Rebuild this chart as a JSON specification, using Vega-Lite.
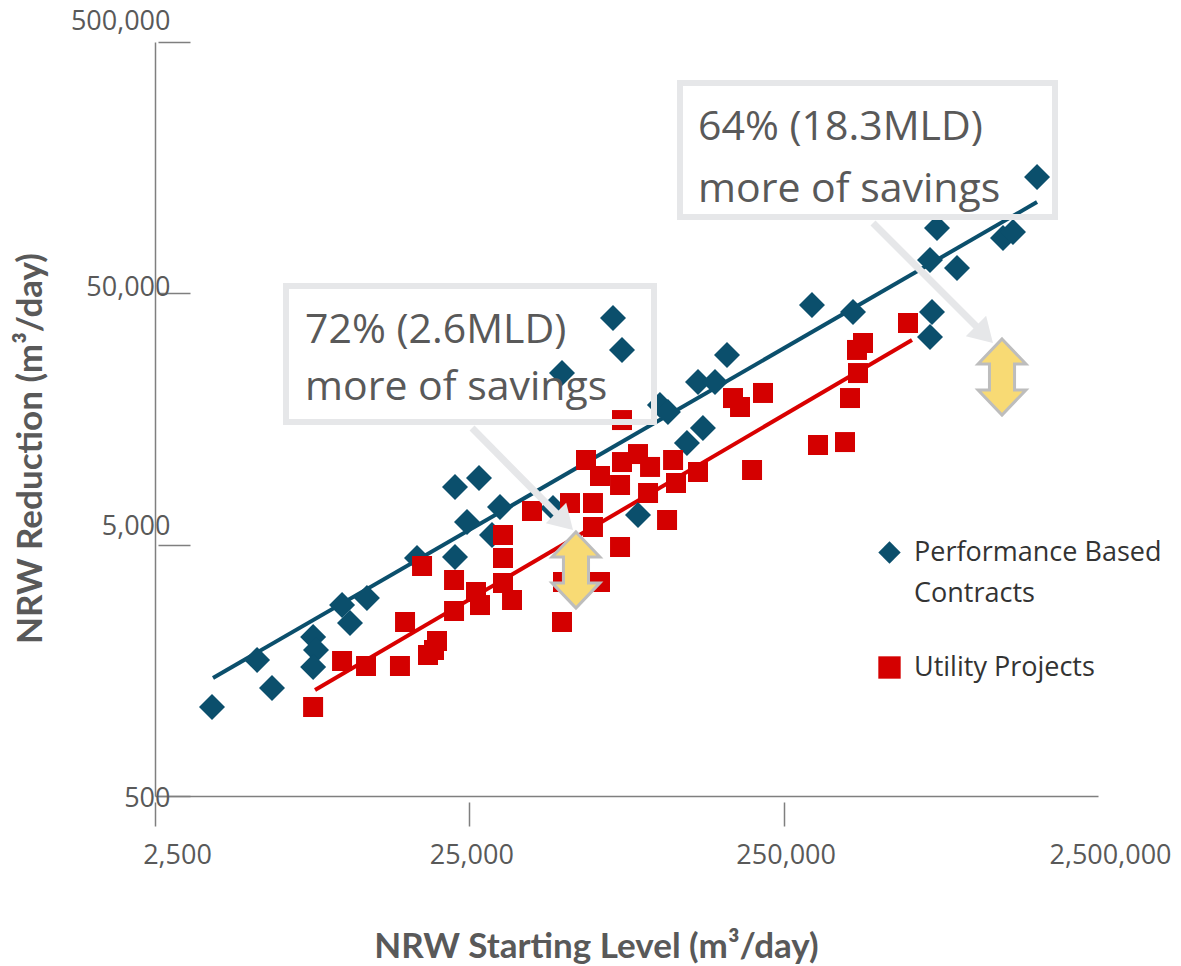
{
  "$schema": "https://vega.github.io/schema/vega-lite/v6.json",
  "width": 943,
  "height": 754,
  "autosize": {"type": "none"},
  "padding": {"left": 155, "top": 42, "right": 83, "bottom": 170},
  "background": "white",
  "datasets": {
    "pts": [
      {"series": "Performance Based Contracts", "start": 3795, "reduction": 1130},
      {"series": "Performance Based Contracts", "start": 5280, "reduction": 1740},
      {"series": "Performance Based Contracts", "start": 5890, "reduction": 1345},
      {"series": "Performance Based Contracts", "start": 7960, "reduction": 2145},
      {"series": "Performance Based Contracts", "start": 8130, "reduction": 1905},
      {"series": "Performance Based Contracts", "start": 7960, "reduction": 1630},
      {"series": "Performance Based Contracts", "start": 9840, "reduction": 2876},
      {"series": "Performance Based Contracts", "start": 10430, "reduction": 2440},
      {"series": "Performance Based Contracts", "start": 11810, "reduction": 3067},
      {"series": "Performance Based Contracts", "start": 17040, "reduction": 4425},
      {"series": "Performance Based Contracts", "start": 22510, "reduction": 4466},
      {"series": "Performance Based Contracts", "start": 22510, "reduction": 8480},
      {"series": "Performance Based Contracts", "start": 24580, "reduction": 6154},
      {"series": "Performance Based Contracts", "start": 26840, "reduction": 9211},
      {"series": "Performance Based Contracts", "start": 31290, "reduction": 7062},
      {"series": "Performance Based Contracts", "start": 29520, "reduction": 5463},
      {"series": "Performance Based Contracts", "start": 46140, "reduction": 6997},
      {"series": "Performance Based Contracts", "start": 49280, "reduction": 24090},
      {"series": "Performance Based Contracts", "start": 71600, "reduction": 39890},
      {"series": "Performance Based Contracts", "start": 76490, "reduction": 29760},
      {"series": "Performance Based Contracts", "start": 86010, "reduction": 6561},
      {"series": "Performance Based Contracts", "start": 101000, "reduction": 17980},
      {"series": "Performance Based Contracts", "start": 107100, "reduction": 16860},
      {"series": "Performance Based Contracts", "start": 123100, "reduction": 12690},
      {"series": "Performance Based Contracts", "start": 138400, "reduction": 14560},
      {"series": "Performance Based Contracts", "start": 133500, "reduction": 22190},
      {"series": "Performance Based Contracts", "start": 151200, "reduction": 22190},
      {"series": "Performance Based Contracts", "start": 165100, "reduction": 28420},
      {"series": "Performance Based Contracts", "start": 307600, "reduction": 44940},
      {"series": "Performance Based Contracts", "start": 415400, "reduction": 42140},
      {"series": "Performance Based Contracts", "start": 730200, "reduction": 67860},
      {"series": "Performance Based Contracts", "start": 768600, "reduction": 90980},
      {"series": "Performance Based Contracts", "start": 890000, "reduction": 63070},
      {"series": "Performance Based Contracts", "start": 741000, "reduction": 42140},
      {"series": "Performance Based Contracts", "start": 730200, "reduction": 33510},
      {"series": "Performance Based Contracts", "start": 1246600, "reduction": 83010},
      {"series": "Performance Based Contracts", "start": 1341000, "reduction": 87700},
      {"series": "Performance Based Contracts", "start": 1599500, "reduction": 145200},
      {"series": "Utility Projects", "start": 7960, "reduction": 1130},
      {"series": "Utility Projects", "start": 9840, "reduction": 1722},
      {"series": "Utility Projects", "start": 11730, "reduction": 1645},
      {"series": "Utility Projects", "start": 15040, "reduction": 1645},
      {"series": "Utility Projects", "start": 15610, "reduction": 2462},
      {"series": "Utility Projects", "start": 17680, "reduction": 4113},
      {"series": "Utility Projects", "start": 18470, "reduction": 1820},
      {"series": "Utility Projects", "start": 19300, "reduction": 1905},
      {"series": "Utility Projects", "start": 19730, "reduction": 2069},
      {"series": "Utility Projects", "start": 22350, "reduction": 3617},
      {"series": "Utility Projects", "start": 22350, "reduction": 2723},
      {"series": "Utility Projects", "start": 26250, "reduction": 3240},
      {"series": "Utility Projects", "start": 27030, "reduction": 2876},
      {"series": "Utility Projects", "start": 31990, "reduction": 5463},
      {"series": "Utility Projects", "start": 31990, "reduction": 4425},
      {"series": "Utility Projects", "start": 31990, "reduction": 3519},
      {"series": "Utility Projects", "start": 34180, "reduction": 3011},
      {"series": "Utility Projects", "start": 39570, "reduction": 6806},
      {"series": "Utility Projects", "start": 49280, "reduction": 2462},
      {"series": "Utility Projects", "start": 49650, "reduction": 3551},
      {"series": "Utility Projects", "start": 52260, "reduction": 7322},
      {"series": "Utility Projects", "start": 58760, "reduction": 10860},
      {"series": "Utility Projects", "start": 61840, "reduction": 7322},
      {"series": "Utility Projects", "start": 61840, "reduction": 5879},
      {"series": "Utility Projects", "start": 65100, "reduction": 9381},
      {"series": "Utility Projects", "start": 65100, "reduction": 3551},
      {"series": "Utility Projects", "start": 75400, "reduction": 4894},
      {"series": "Utility Projects", "start": 76490, "reduction": 15660},
      {"series": "Utility Projects", "start": 76490, "reduction": 10660},
      {"series": "Utility Projects", "start": 75400, "reduction": 8637},
      {"series": "Utility Projects", "start": 86010, "reduction": 11470},
      {"series": "Utility Projects", "start": 92570, "reduction": 8027},
      {"series": "Utility Projects", "start": 93940, "reduction": 10190},
      {"series": "Utility Projects", "start": 106400, "reduction": 6268},
      {"series": "Utility Projects", "start": 111200, "reduction": 10860},
      {"series": "Utility Projects", "start": 113600, "reduction": 8797},
      {"series": "Utility Projects", "start": 133500, "reduction": 9730},
      {"series": "Utility Projects", "start": 172500, "reduction": 19160},
      {"series": "Utility Projects", "start": 181600, "reduction": 17650},
      {"series": "Utility Projects", "start": 198300, "reduction": 9909},
      {"series": "Utility Projects", "start": 214900, "reduction": 20070},
      {"series": "Utility Projects", "start": 321500, "reduction": 12460},
      {"series": "Utility Projects", "start": 391800, "reduction": 12800},
      {"series": "Utility Projects", "start": 406400, "reduction": 19160},
      {"series": "Utility Projects", "start": 430900, "reduction": 24090},
      {"series": "Utility Projects", "start": 427700, "reduction": 29760},
      {"series": "Utility Projects", "start": 447000, "reduction": 31720},
      {"series": "Utility Projects", "start": 621500, "reduction": 38100}
    ],
    "trend": [
      {"series": "Performance Based Contracts", "start": 3823, "reduction": 1474},
      {"series": "Performance Based Contracts", "start": 1599500, "reduction": 115400},
      {"series": "Utility Projects", "start": 8073, "reduction": 1320},
      {"series": "Utility Projects", "start": 640000, "reduction": 32610}
    ],
    "boxes": [
      {"x": 6527, "x2": 96700, "y": 53480, "y2": 15380},
      {"x": 117000, "x2": 1824500, "y": 343400, "y2": 100600}
    ],
    "pointers": [
      {"x": 25500, "y": 14560, "x2": 49280, "y2": 6324, "tx": 53420, "ty": 5719},
      {"x": 481000, "y": 95200, "x2": 1068800, "y2": 35090, "tx": 1158000, "ty": 31720}
    ],
    "notes": [
      {"x": 7502, "y": 31720, "text": "72% (2.6MLD)"},
      {"x": 7502, "y": 18820, "text": "more of savings"},
      {"x": 133500, "y": 203700, "text": "64% (18.3MLD)"},
      {"x": 133500, "y": 115400, "text": "more of savings"}
    ],
    "gaps": [
      {"x": 54600, "y": 3965},
      {"x": 1237500, "y": 23230}
    ]
  },
  "layer": [
    {
      "data": {"name": "trend"},
      "transform": [{"filter": "datum.series == 'Performance Based Contracts'"}],
      "mark": {"type": "line", "strokeWidth": 4, "color": "#0b4f6c"},
      "encoding": {
        "x": {"field": "start", "type": "quantitative", "scale": {"type": "log", "domain": [2500, 2500000], "nice": false},
          "axis": {
            "values": [2500, 25000, 250000, 2500000],
            "format": ",",
            "tickSize": 30,
            "tickDash": [0, 6, 24, 100],
            "tickOpacity": {"condition": {"test": "datum.value > 2000000", "value": 0}, "value": 1},
            "labelOffset": {"condition": [{"test": "datum.value == 2500", "value": 22}, {"test": "datum.value == 2500000", "value": 12}], "value": 2},
            "labelPadding": 16,
            "title": "NRW Starting Level (m³/day)",
            "titleX": 441,
            "titleY": 161,
            "titleBaseline": "alphabetic",
            "titleAlign": "center",
            "titleAnchor": null
          }
        },
        "y": {"field": "reduction", "type": "quantitative", "scale": {"type": "log", "domain": [500, 500000], "nice": false},
          "axis": {
            "values": [500, 5000, 50000, 500000],
            "format": ",",
            "tickSize": -35,
            "tickDash": [0, 3, 32, 100],
            "labelPadding": 20,
            "labelOffset": {"condition": [{"test": "datum.value < 1000", "value": 2}, {"test": "datum.value == 5000", "value": -18}, {"test": "datum.value == 50000", "value": -6}], "value": -21},
            "title": "NRW Reduction (m³/day)",
            "titleX": -107,
            "titleY": 406,
            "titleAngle": -90,
            "titleBaseline": "bottom",
            "titleAlign": "center",
            "titleAnchor": null
          }
        }
      }
    },
    {
      "data": {"name": "trend"},
      "transform": [{"filter": "datum.series == 'Utility Projects'"}],
      "mark": {"type": "line", "strokeWidth": 4, "color": "#d90000"},
      "encoding": {
        "x": {"field": "start", "type": "quantitative"},
        "y": {"field": "reduction", "type": "quantitative"}
      }
    },
    {
      "data": {"name": "pts"},
      "mark": {"type": "point", "filled": true, "opacity": 1, "strokeWidth": 0},
      "encoding": {
        "x": {"field": "start", "type": "quantitative"},
        "y": {"field": "reduction", "type": "quantitative"},
        "color": {"field": "series", "type": "nominal",
          "scale": {"domain": ["Performance Based Contracts", "Utility Projects"], "range": ["#0b4f6c", "#d40000"]},
          "legend": {
            "orient": "none", "legendX": 721, "legendY": 497, "title": null, "padding": 0,
            "symbolSize": 500, "symbolStrokeWidth": 0,
            "labelFont": "Open Sans", "labelFontSize": 27, "labelColor": "#333333", "labelLimit": 500, "labelOffset": 11,
            "rowPadding": 46,
            "labelExpr": "datum.label == 'Performance Based Contracts' ? ['Performance Based', 'Contracts'] : datum.label"
          }
        },
        "shape": {"field": "series", "type": "nominal",
          "scale": {"domain": ["Performance Based Contracts", "Utility Projects"], "range": ["diamond", "square"]},
          "legend": {
            "orient": "none", "legendX": 721, "legendY": 497, "title": null, "padding": 0,
            "symbolSize": 500, "symbolStrokeWidth": 0,
            "labelFont": "Open Sans", "labelFontSize": 27, "labelColor": "#333333", "labelLimit": 500, "labelOffset": 11,
            "rowPadding": 46,
            "labelExpr": "datum.label == 'Performance Based Contracts' ? ['Performance Based', 'Contracts'] : datum.label"
          }
        },
        "size": {"condition": {"test": "datum.series == 'Utility Projects'", "value": 400}, "value": 676}
      }
    },
    {
      "data": {"name": "boxes"},
      "mark": {"type": "rect", "fill": null, "fillOpacity": 0, "stroke": "#e6e7e9", "strokeWidth": 6},
      "encoding": {
        "x": {"field": "x", "type": "quantitative"},
        "x2": {"field": "x2"},
        "y": {"field": "y", "type": "quantitative"},
        "y2": {"field": "y2"}
      }
    },
    {
      "data": {"name": "pointers"},
      "mark": {"type": "rule", "stroke": "#e6e7e9", "strokeWidth": 7},
      "encoding": {
        "x": {"field": "x", "type": "quantitative"},
        "x2": {"field": "x2"},
        "y": {"field": "y", "type": "quantitative"},
        "y2": {"field": "y2"}
      }
    },
    {
      "data": {"name": "pointers"},
      "mark": {"type": "point", "filled": true, "opacity": 1, "strokeWidth": 0, "color": "#e6e7e9", "size": 2304,
        "shape": "M0,0 L-0.283,-1.131 L-1.131,-0.283 Z"},
      "encoding": {
        "x": {"field": "tx", "type": "quantitative"},
        "y": {"field": "ty", "type": "quantitative"}
      }
    },
    {
      "data": {"name": "notes"},
      "mark": {"type": "text", "align": "left", "baseline": "alphabetic", "font": "Open Sans", "fontSize": 41, "color": "#595959"},
      "encoding": {
        "x": {"field": "x", "type": "quantitative"},
        "y": {"field": "y", "type": "quantitative"},
        "text": {"field": "text"}
      }
    },
    {
      "data": {"name": "gaps"},
      "mark": {"type": "point", "filled": true, "opacity": 1, "fill": "#f8da74", "stroke": "#bdbdbd", "strokeWidth": 3, "strokeOpacity": 1, "size": 5776,
        "shape": "M0,-1 L0.63,-0.34 L0.33,-0.34 L0.33,0.34 L0.63,0.34 L0,1 L-0.63,0.34 L-0.33,0.34 L-0.33,-0.34 L-0.63,-0.34 Z"},
      "encoding": {
        "x": {"field": "x", "type": "quantitative"},
        "y": {"field": "y", "type": "quantitative"}
      }
    }
  ],
  "config": {
    "view": {"stroke": null},
    "style": {"guide-label": {"lineHeight": 41}},
    "axis": {
      "grid": false,
      "domainColor": "#7f7f7f",
      "domainWidth": 1.5,
      "tickColor": "#7f7f7f",
      "tickWidth": 1.5,
      "labelFont": "Open Sans",
      "labelFontSize": 27,
      "labelColor": "#595959",
      "labelFlush": false,
      "labelOverlap": false,
      "labelBound": false,
      "titleFont": "Lato",
      "titleFontWeight": "bold",
      "titleFontSize": 35,
      "titleColor": "#595959"
    }
  }
}
